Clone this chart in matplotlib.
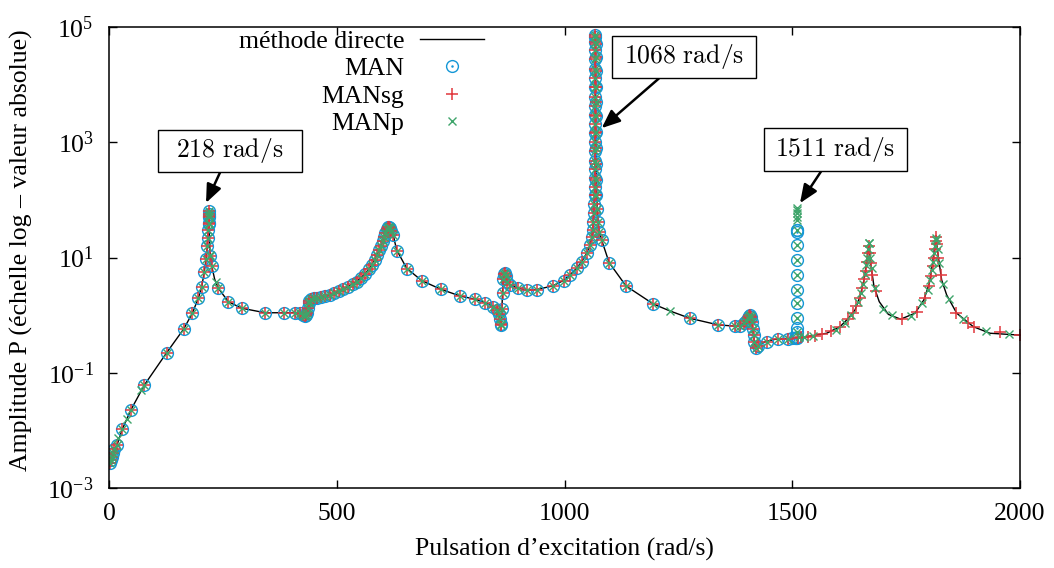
import numpy as np
import matplotlib
matplotlib.use("Agg")
import matplotlib.pyplot as plt
from matplotlib.path import Path

# Police type Times pour tout le graphique
plt.rcParams['font.family'] = 'serif'
plt.rcParams['font.serif'] = ['Liberation Serif']
plt.rcParams['mathtext.fontset'] = 'custom'
plt.rcParams['mathtext.rm'] = 'Liberation Serif'
plt.rcParams['mathtext.it'] = 'Liberation Serif:italic'

# --- Méthode directe (courbe continue) ---
omega_direct = [0, 5, 10, 18, 29, 48, 77.5, 126.6, 164, 183, 196, 203.5, 209, 213, 216, 218, 219,
                220, 221.5, 225.5, 232, 240, 262, 291, 342.5, 385, 408, 422, 430, 434, 437, 440,
                446, 456, 485, 514, 544, 562, 577, 588, 596.5, 604, 610, 613, 617, 624, 631.5,
                653.5, 686.5, 728, 770.5, 803.5, 825.5, 843.7, 852, 856, 859, 860.5, 862, 863.5,
                865, 867, 869, 872, 880, 898.6, 917, 939, 974, 997.5, 1012, 1026.8, 1037.8,
                1048.7, 1056, 1060, 1063, 1065, 1066.5, 1067.3, 1067.8, 1068, 1068.3, 1068.8,
                1069.8, 1071.5, 1074, 1077, 1081.6, 1098, 1135, 1195, 1231.6, 1275.5, 1337.7,
                1374, 1389, 1398, 1404, 1407, 1410, 1413, 1416, 1419.5, 1423, 1440, 1462, 1502,
                1531.6, 1575.6, 1604.8, 1623, 1637.8, 1648.7, 1657.5, 1663, 1667.8, 1672, 1679.5,
                1691, 1711, 1738, 1769.5, 1789, 1801, 1808, 1815.6, 1820.6, 1828, 1839, 1861,
                1897.5, 1934, 1992.8, 2000]
amp_direct = [0.0026, 0.0033, 0.0042, 0.0057, 0.0104, 0.0226, 0.061, 0.223, 0.575, 1.08, 1.96, 3.1,
              5.5, 9.3, 16, 30, 65, 30, 14, 7.1, 4.2, 2.93, 1.71, 1.32, 1.10, 1.10, 1.11, 1.06,
              0.98, 1.1, 1.5, 1.78, 1.9, 2.0, 2.24, 2.82, 3.82, 5.19, 7.43, 11.1, 15.5, 23, 31,
              34, 31, 24.5, 13.5, 6.5, 3.97, 2.82, 2.15, 1.89, 1.65, 1.41, 1.25, 1.05, 0.75, 0.66,
              0.9, 2.0, 3.8, 5.2, 5.3, 4.3, 3.34, 2.93, 2.72, 2.78, 3.21, 3.98, 4.99, 6.52, 8.5,
              11.9, 16.5, 23, 40, 90, 300, 2000, 20000, 73000, 20000, 2000, 300, 90, 40, 27, 20,
              8.15, 3.21, 1.56, 1.18, 0.88, 0.676, 0.645, 0.68, 0.78, 0.92, 1.0, 0.88, 0.58, 0.38,
              0.27, 0.29, 0.345, 0.38, 0.397, 0.424, 0.485, 0.63, 0.88, 1.23, 2.09, 4.08, 7.94,
              17.2, 7.94, 3.13, 1.71, 1.03, 0.85, 1.08, 1.84, 3.58, 7.94, 23.7, 10.4, 4.08, 2.24,
              1.08, 0.63, 0.485, 0.453, 0.45]

# --- MAN (points communs aux trois variantes jusqu'à ~1500 rad/s) ---
man_w = [2, 4, 6, 9.5, 12, 17.6, 29, 48, 77.5, 126.6, 164, 183, 196, 203.5, 209, 213, 216, 217.5,
         218.2, 218.6, 218.8, 219, 219.1, 219.4, 219.8, 222.5, 225.5, 240, 262, 291, 342.5, 385,
         408, 420, 426, 430, 432, 434, 436, 438, 440, 444, 450, 456, 465, 475, 485, 495, 505, 514,
         524, 535, 544, 553, 562, 570, 577, 583, 588, 593, 597, 601, 604, 607, 610, 612, 614, 616,
         619, 624, 632, 654, 687, 728, 771, 804, 826, 844, 852, 856, 858, 859.5, 861, 862.5, 864,
         866, 867.5, 869, 871, 874, 880, 899, 917, 939, 974, 998, 1012, 1027, 1038, 1049, 1056,
         1060, 1062, 1063.5, 1064.5, 1065.5, 1066, 1066.4, 1066.7, 1066.9, 1067.1, 1067.3, 1067.4,
         1067.5, 1067.6, 1067.7, 1067.75, 1067.8, 1067.85, 1067.9, 1067.95, 1068, 1068, 1068,
         1068, 1068, 1068.1, 1068.15, 1068.2, 1068.3, 1068.4, 1068.5, 1068.7, 1068.9, 1069.2,
         1069.6, 1070.2, 1071.2, 1073, 1076, 1082, 1098, 1135, 1195, 1276, 1338, 1374, 1385, 1393,
         1399, 1403, 1405, 1407, 1409, 1411, 1413, 1415, 1417, 1419.5, 1424, 1444, 1469, 1490,
         1500, 1505, 1508, 1510]
man_a = [0.0027, 0.0031, 0.0035, 0.0041, 0.0047, 0.0056, 0.0104, 0.0226, 0.061, 0.223, 0.575, 1.08,
         1.96, 3.1, 5.5, 9.3, 16, 22, 30, 40, 50, 57, 63, 52, 38, 10.5, 7.1, 2.93, 1.71, 1.32, 1.10,
         1.10, 1.11, 1.07, 1.02, 0.98, 1.0, 1.1, 1.35, 1.6, 1.78, 1.88, 1.95, 2.0, 2.08, 2.15, 2.24,
         2.4, 2.6, 2.82, 3.1, 3.45, 3.82, 4.4, 5.19, 6.2, 7.43, 9.0, 11.1, 13.5, 15.8, 19, 23, 27,
         31, 33.5, 34, 32.5, 29, 24.5, 13.2, 6.4, 3.95, 2.82, 2.15, 1.89, 1.65, 1.41, 1.25, 1.05,
         0.85, 0.7, 0.68, 1.3, 2.4, 4.3, 5.2, 5.3, 4.7, 3.8, 3.34, 2.93, 2.72, 2.78, 3.21, 3.98,
         4.99, 6.52, 8.5, 11.9, 16.5, 23, 30, 42, 60, 85, 120, 170, 240, 340, 480, 700, 1000, 1450,
         2100, 3000, 4300, 6200, 9000, 13000, 19000, 28000, 40000, 55000, 68000, 73000, 50000,
         30000, 17000, 9000, 5000, 2800, 1500, 800, 420, 220, 120, 70, 42, 28, 20, 8.15, 3.21,
         1.56, 0.88, 0.676, 0.645, 0.66, 0.72, 0.8, 0.9, 0.96, 1.0, 0.93, 0.75, 0.58, 0.45, 0.34,
         0.27, 0.29, 0.347, 0.382, 0.392, 0.397, 0.4, 0.4, 0.405]

# colonne parasite de MAN à 1511 rad/s
man_col_w = [1511] * 12
man_col_a = [0.42, 0.5, 0.6, 0.88, 1.61, 2.74, 4.99, 9.1, 16.5, 28, 29.5, 30.5]

# --- MANsg : points au-delà de 1511 rad/s ---
sg_hi_w = [1513, 1520, 1535, 1550, 1565, 1585, 1605, 1622, 1633, 1641, 1648, 1654, 1658, 1661,
           1664, 1666, 1668, 1670, 1672, 1676, 1684, 1740, 1774, 1792, 1800, 1805, 1809, 1811,
           1813, 1815, 1816, 1818, 1821, 1827, 1860, 1885, 1900, 1955, 2000]
sg_hi_a = [0.4, 0.41, 0.42, 0.44, 0.47, 0.52, 0.63, 0.86, 1.1, 1.45, 2.0, 2.9, 4.2, 5.8, 8.5, 12,
           16, 12, 8, 5, 2.6, 0.85, 1.15, 2.0, 3.2, 4.8, 7, 10, 14, 19, 23, 17, 10, 5, 1.1, 0.72,
           0.62, 0.5, 0.45]

# --- MANp : points au-delà de 1511 rad/s, colonne à 1511 et points isolés ---
p_hi_w = [1515, 1525, 1545, 1595, 1615, 1628, 1645, 1651, 1656, 1660, 1663, 1665, 1667, 1668,
          1669, 1671, 1674, 1681, 1700, 1720, 1760, 1785, 1798, 1803, 1807, 1810, 1812, 1814,
          1815, 1816, 1819, 1823, 1832, 1845, 1875, 1925, 1975]
p_hi_a = [0.41, 0.42, 0.44, 0.56, 0.72, 1.0, 1.7, 2.4, 3.5, 5.2, 7.5, 10, 14, 17.5, 18, 10, 6.5,
          3.0, 1.3, 1.0, 0.95, 1.6, 2.7, 4.0, 6, 8.5, 12, 16, 20, 22, 14, 8, 3.5, 1.9, 0.85, 0.52,
          0.47]
p_col_w = [1511] * 13
p_col_a = [0.5, 0.9, 1.6, 2.74, 5, 9.1, 16.5, 30, 45, 51, 60, 67, 72]
p_only_w = [20.5, 38.8, 70, 221, 236, 1232]
p_only_a = [0.0073, 0.016, 0.05, 11, 3.8, 1.18]

# annotations : (texte, pointe de la flèche, centre de la boîte)
annot_txt = ['218 rad/s', '1068 rad/s', '1511 rad/s']
annot_tip = [(213, 88.7), (1081.6, 1758), (1517, 87.7)]
annot_box = [(265.6, 708), (1262, 30400), (1595, 745)]

c_man = '#1597d6'
c_sg = '#e0373c'
c_p = '#3fa56b'
fs = 18.5


def boite(x0, y0, width, height, mutation_size):
    # cadre de largeur fixe, centré sur le texte
    demi = 2.8 * mutation_size
    py = 0.26 * mutation_size
    cx = x0 + width / 2
    xa, xb = cx - demi, cx + demi
    ya, yb = y0 - py, y0 + height + py
    return Path([(xa, ya), (xb, ya), (xb, yb), (xa, yb), (xa, ya)], closed=True)


man_w = np.array(man_w)
man_a = np.array(man_a)
low = man_w < 1500
sg_w = np.concatenate([man_w[low], sg_hi_w])
sg_a = np.concatenate([man_a[low], sg_hi_a])
p_w = np.concatenate([man_w[low], p_only_w, p_col_w, p_hi_w])
p_a = np.concatenate([man_a[low], p_only_a, p_col_a, p_hi_a])
mw = np.concatenate([man_w, man_col_w])
ma = np.concatenate([man_a, man_col_a])

fig = plt.figure(figsize=(10.54, 5.68), dpi=100)
ax = fig.add_axes([109 / 1054, 1 - 488 / 568, 911 / 1054, 461 / 568])

l_dir, = ax.plot(omega_direct, amp_direct, color='black', lw=1.0)
l_man, = ax.plot(mw, ma, ls='none', marker='o', ms=8.5, mfc='none', mec=c_man, mew=1.0)
l_dot, = ax.plot(mw, ma, ls='none', marker='.', ms=1.6, color=c_man)
l_sg, = ax.plot(sg_w, sg_a, ls='none', marker='+', ms=9, color=c_sg, mew=1.1)
l_p, = ax.plot(p_w, p_a, ls='none', marker='x', ms=6, color=c_p, mew=1.0)

ax.set_yscale('log')
ax.set_xlim(0, 2000)
ax.set_ylim(1e-3, 1e5)
ax.set_xticks([0, 500, 1000, 1500, 2000])
ax.set_yticks([1e-3, 1e-1, 1e1, 1e3, 1e5])
ax.minorticks_off()
ax.tick_params(direction='in', top=True, right=True, length=6, width=1, labelsize=fs)
ax.tick_params(axis='y', pad=11)
ax.tick_params(axis='x', pad=11)
for s in ax.spines.values():
    s.set_linewidth(1.1)

ax.set_xlabel('Pulsation d’excitation (rad/s)', fontsize=fs, labelpad=9)
ax.set_ylabel('Amplitude P (échelle log – valeur absolue)', fontsize=fs)
ax.yaxis.set_label_coords(-0.083, 0.516)

leg = ax.legend([l_dir, (l_man, l_dot), l_sg, l_p], ['méthode directe', 'MAN', 'MANsg', 'MANp'],
                loc='upper right', bbox_to_anchor=(484 / 1054, 1 - 30 / 568),
                bbox_transform=fig.transFigure, frameon=False, markerfirst=False,
                fontsize=fs, handlelength=2.5, handletextpad=0.6, labelspacing=0.17,
                borderpad=0, borderaxespad=0, numpoints=1)

for txt, tip, box in zip(annot_txt, annot_tip, annot_box):
    ax.annotate(r'$\mathrm{' + txt.replace(' ', r'\ ') + r'}$', xy=tip, xytext=box,
                ha='center', va='center', fontsize=fs, math_fontfamily='cm',
                bbox=dict(boxstyle=boite, fc='white', ec='black', lw=1.0),
                arrowprops=dict(arrowstyle='-|>,head_length=0.6,head_width=0.25',
                                color='black', lw=1.8, shrinkA=0, shrinkB=0))

fig.savefig('out.png', dpi=100)
